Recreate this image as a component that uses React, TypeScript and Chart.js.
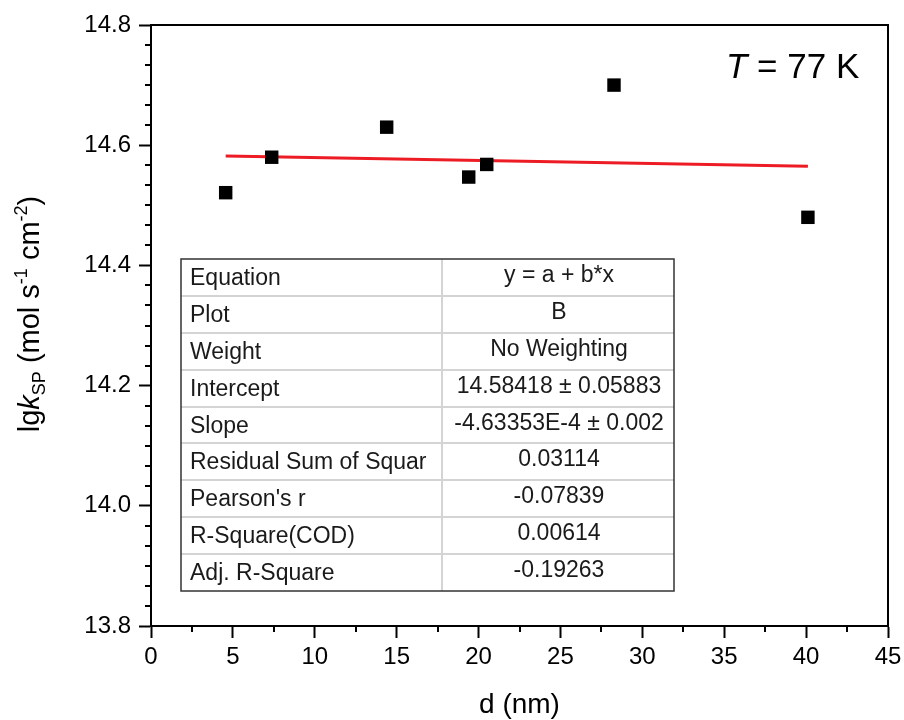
import React, { useEffect, useRef } from 'react';
import { Chart, registerables } from 'chart.js';

Chart.register(...registerables);

// ---- data ----
const dValues = [4.56, 7.37, 14.39, 19.4, 20.5, 28.27, 40.11];
const lgkValues = [14.521, 14.58, 14.63, 14.547, 14.568, 14.7, 14.48];
const fitD = [4.56, 40.11];
const fitLgk = [14.582, 14.565];
const xMajorTicks = [0, 5, 10, 15, 20, 25, 30, 35, 40, 45];
const yMajorTicks = [13.8, 14.0, 14.2, 14.4, 14.6, 14.8];
const tableLabels = [
  'Equation',
  'Plot',
  'Weight',
  'Intercept',
  'Slope',
  'Residual Sum of Squar',
  "Pearson's r",
  'R-Square(COD)',
  'Adj. R-Square',
];
const tableValues = [
  'y = a + b*x',
  'B',
  'No Weighting',
  '14.58418 ± 0.05883',
  '-4.63353E-4 ± 0.002',
  '0.03114',
  '-0.07839',
  '0.00614',
  '-0.19263',
];
const tempSymbol = 'T';
const tempText = ' = 77 K';
const xTitle = 'd (nm)';

const FONT = '"Liberation Sans", Arial, Helvetica, sans-serif';

type Seg = { t: string; kind: 'n' | 'i' | 'sub' | 'sup' };
const yTitleSegs: Seg[] = [
  { t: 'lg', kind: 'n' },
  { t: 'k', kind: 'i' },
  { t: 'SP', kind: 'sub' },
  { t: ' (mol s', kind: 'n' },
  { t: '-1', kind: 'sup' },
  { t: ' cm', kind: 'n' },
  { t: '-2', kind: 'sup' },
  { t: ')', kind: 'n' },
];

function segFont(kind: Seg['kind'], size: number) {
  const s = kind === 'sub' || kind === 'sup' ? Math.round(size * 0.62) : size;
  return `${kind === 'i' ? 'italic ' : ''}${s}px ${FONT}`;
}

function drawRich(ctx: CanvasRenderingContext2D, segs: Seg[], size: number, cx: number, baseY: number) {
  let total = 0;
  for (const s of segs) {
    ctx.font = segFont(s.kind, size);
    total += ctx.measureText(s.t).width;
  }
  let x = cx - total / 2;
  ctx.textBaseline = 'alphabetic';
  ctx.textAlign = 'left';
  for (const s of segs) {
    ctx.font = segFont(s.kind, size);
    let dy = 0;
    if (s.kind === 'sub') dy = size * 0.2;
    if (s.kind === 'sup') dy = -size * 0.4;
    ctx.fillText(s.t, x, baseY + dy);
    x += ctx.measureText(s.t).width;
  }
}

const overlayPlugin = {
  id: 'overlay',
  afterDraw(chart: any) {
    const ctx: CanvasRenderingContext2D = chart.ctx;
    const { left, right, top, bottom } = chart.chartArea;
    const xs = chart.scales.x;
    const ys = chart.scales.y;
    ctx.save();
    ctx.fillStyle = '#000';
    ctx.strokeStyle = '#000';

    // frame top + right
    ctx.lineWidth = 2;
    ctx.beginPath();
    ctx.moveTo(left - 1, top);
    ctx.lineTo(right, top);
    ctx.lineTo(right, bottom + 1);
    ctx.stroke();

    // minor ticks x
    ctx.lineWidth = 2;
    for (let i = 0; i < xMajorTicks.length - 1; i++) {
      const v = (xMajorTicks[i] + xMajorTicks[i + 1]) / 2;
      const px = Math.round(xs.getPixelForValue(v));
      ctx.beginPath();
      ctx.moveTo(px, bottom);
      ctx.lineTo(px, bottom + 6);
      ctx.stroke();
    }
    // minor ticks y (5 between majors)
    for (let i = 0; i < yMajorTicks.length - 1; i++) {
      for (let k = 1; k < 6; k++) {
        const v = yMajorTicks[i] + ((yMajorTicks[i + 1] - yMajorTicks[i]) * k) / 6;
        const py = Math.round(ys.getPixelForValue(v));
        ctx.beginPath();
        ctx.moveTo(left - 6, py);
        ctx.lineTo(left, py);
        ctx.stroke();
      }
    }

    // x title
    ctx.font = `28px ${FONT}`;
    ctx.textAlign = 'center';
    ctx.textBaseline = 'alphabetic';
    ctx.fillText(xTitle, (left + right) / 2, 713);

    // y title (rotated)
    ctx.save();
    ctx.translate(39, 314);
    ctx.rotate(-Math.PI / 2);
    drawRich(ctx, yTitleSegs, 29, 0, 0);
    ctx.restore();

    // T = 77 K
    ctx.textAlign = 'left';
    ctx.font = `italic 35px ${FONT}`;
    const tx = 726;
    ctx.fillText(tempSymbol, tx, 78);
    const tw = ctx.measureText(tempSymbol).width;
    ctx.font = `35px ${FONT}`;
    ctx.fillText(tempText, tx + tw, 78);

    // table
    const tL = 181, tR = 674, tT = 259, tB = 591, tMid = 442;
    const rows = tableLabels.length;
    const rh = (tB - tT) / rows;
    ctx.fillStyle = '#fff';
    ctx.fillRect(tL, tT, tR - tL, tB - tT);
    ctx.strokeStyle = '#d4d4d4';
    ctx.lineWidth = 2;
    for (let r = 1; r < rows; r++) {
      const y = Math.round(tT + r * rh);
      ctx.beginPath();
      ctx.moveTo(tL, y);
      ctx.lineTo(tR, y);
      ctx.stroke();
    }
    ctx.beginPath();
    ctx.moveTo(tMid, tT);
    ctx.lineTo(tMid, tB);
    ctx.stroke();
    ctx.strokeStyle = '#333';
    ctx.lineWidth = 1.5;
    ctx.strokeRect(tL, tT, tR - tL, tB - tT);

    ctx.fillStyle = '#1a1a1a';
    ctx.font = `23px ${FONT}`;
    for (let r = 0; r < rows; r++) {
      const y0 = tT + r * rh;
      ctx.textAlign = 'left';
      ctx.fillText(tableLabels[r], 190, y0 + 26);
      ctx.textAlign = 'center';
      ctx.fillText(tableValues[r], (tMid + tR) / 2 + 1, y0 + 23);
    }
    ctx.restore();
  },
};

function zeroPad(s: any) {
  s.paddingLeft = 0;
  s.paddingRight = 0;
  s.paddingTop = 0;
  s.paddingBottom = 0;
}

export default function App() {
  const ref = useRef<HTMLCanvasElement | null>(null);
  useEffect(() => {
    if (!ref.current) return;
    const chart = new Chart(ref.current, {
      type: 'scatter',
      data: {
        datasets: [
          {
            label: 'B',
            data: dValues.map((d, i) => ({ x: d, y: lgkValues[i] })),
            pointStyle: 'rect',
            pointRadius: 9.5,
            pointHoverRadius: 9.5,
            backgroundColor: '#000',
            borderColor: '#000',
            borderWidth: 0,
            showLine: false,
          },
          {
            label: 'fit',
            data: fitD.map((d, i) => ({ x: d, y: fitLgk[i] })),
            showLine: true,
            borderColor: '#ed1c24',
            borderWidth: 3,
            pointRadius: 0,
            fill: false,
          } as any,
        ],
      },
      options: {
        responsive: false,
        animation: false,
        events: [],
        layout: { padding: { left: 0, top: 25, right: 16, bottom: 0 } },
        plugins: {
          legend: { display: false },
          tooltip: { enabled: false },
          title: { display: false },
        },
        scales: {
          x: {
            type: 'linear',
            min: 0,
            max: 45,
            afterBuildTicks: (s: any) => {
              s.ticks = xMajorTicks.map((v) => ({ value: v }));
            },
            afterFit: (s: any) => {
              s.height = 94;
              zeroPad(s);
            },
            ticks: {
              color: '#000',
              font: { family: FONT, size: 24 },
              padding: 5,
              maxRotation: 0,
              autoSkip: false,
              callback: (v: any) => String(v),
            },
            grid: {
              display: true,
              drawOnChartArea: false,
              drawTicks: true,
              tickLength: 12,
              tickColor: '#000',
              tickWidth: 2,
            },
            border: { display: true, color: '#000', width: 2 },
            title: { display: false },
          },
          y: {
            type: 'linear',
            min: 13.8,
            max: 14.8,
            afterBuildTicks: (s: any) => {
              s.ticks = yMajorTicks.map((v) => ({ value: v }));
            },
            afterFit: (s: any) => {
              s.width = 151;
              zeroPad(s);
            },
            ticks: {
              color: '#000',
              font: { family: FONT, size: 24 },
              padding: 8,
              autoSkip: false,
              callback: (v: any) => Number(v).toFixed(1),
            },
            grid: {
              display: true,
              drawOnChartArea: false,
              drawTicks: true,
              tickLength: 12,
              tickColor: '#000',
              tickWidth: 2,
            },
            border: { display: true, color: '#000', width: 2 },
            title: { display: false },
          },
        },
      },
      plugins: [overlayPlugin],
    });
    return () => chart.destroy();
  }, []);
  return (
    <div style={{ position: 'absolute', left: 0, top: 0, width: 904, height: 720, background: '#fff' }}>
      <canvas ref={ref} width={904} height={720} style={{ display: 'block', width: 904, height: 720 }} />
    </div>
  );
}
